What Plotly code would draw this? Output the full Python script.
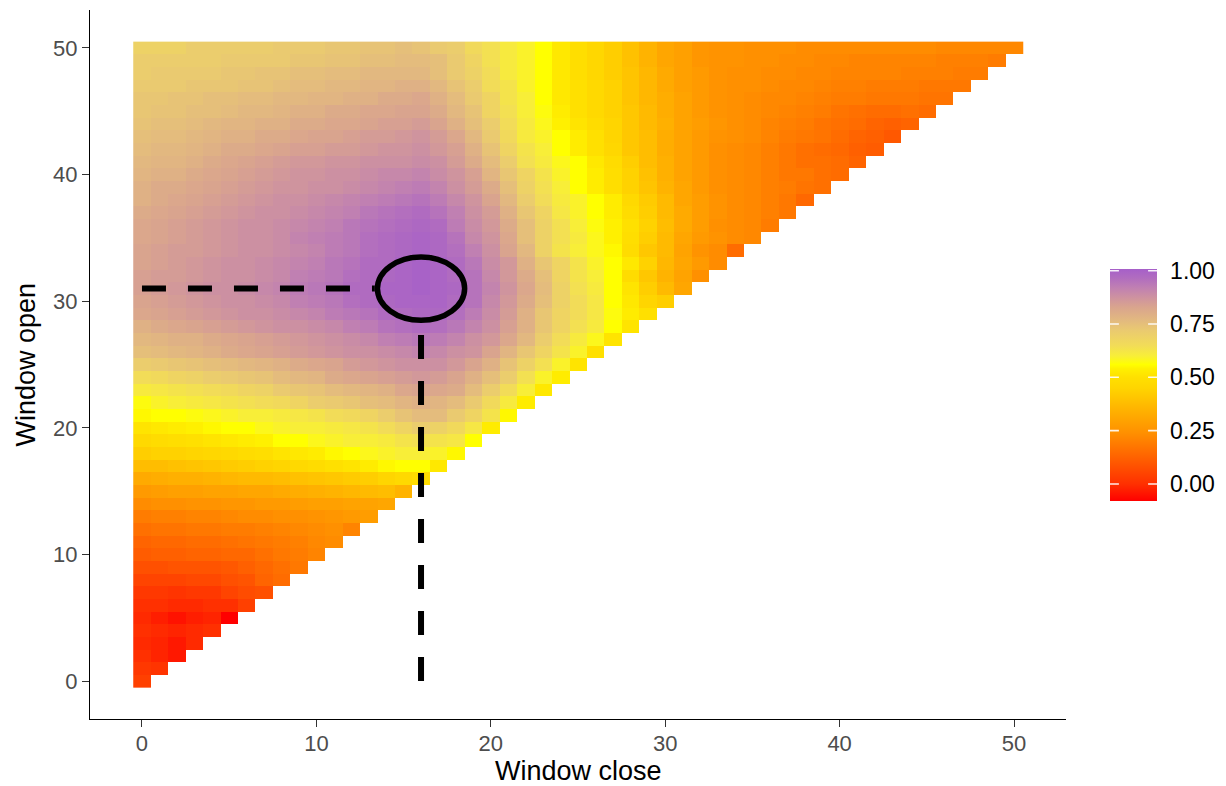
import plotly.graph_objects as go

# Window close / window open positions (days)
window_close = list(range(51))
window_open = list(range(51))

# Model fit (x100) for each window-open row; entries run over window close = 0 .. open
open_50 = [69, 69, 69, 71, 71, 71, 71, 71, 72, 72, 72, 73, 73, 74, 74, 75, 74, 72, 71, 66,
           64, 61, 59, 56, 52, 49, 46, 43, 39, 35, 31, 29, 26, 25, 25, 24, 24, 24, 23, 23,
           23, 23, 23, 23, 23, 23, 22, 22, 22, 22, 22]
open_49 = [71, 71, 71, 71, 71, 72, 72, 72, 72, 73, 73, 74, 74, 75, 75, 76, 76, 75, 72, 68,
           64, 61, 59, 56, 52, 49, 46, 43, 39, 35, 31, 29, 26, 25, 25, 24, 24, 23, 23, 22,
           22, 21, 21, 21, 21, 21, 20, 20, 20, 19]
open_48 = [71, 72, 72, 72, 72, 73, 73, 74, 74, 75, 75, 76, 76, 77, 77, 77, 77, 75, 72, 69,
           65, 61, 59, 56, 52, 49, 46, 43, 40, 36, 32, 29, 27, 25, 24, 24, 23, 23, 22, 22,
           21, 21, 21, 21, 20, 20, 20, 19, 19]
open_47 = [72, 72, 72, 73, 73, 73, 74, 74, 75, 76, 76, 77, 77, 78, 78, 79, 79, 77, 74, 71,
           65, 63, 59, 56, 52, 50, 47, 44, 40, 36, 32, 29, 27, 25, 24, 24, 23, 22, 22, 21,
           20, 20, 19, 19, 19, 18, 18, 18]
open_46 = [73, 73, 74, 74, 75, 75, 76, 76, 77, 77, 78, 78, 79, 79, 81, 81, 82, 79, 76, 72,
           68, 63, 60, 56, 52, 50, 47, 44, 40, 36, 33, 30, 27, 25, 24, 23, 22, 22, 21, 20,
           19, 19, 18, 18, 18, 17, 17]
open_45 = [73, 74, 74, 75, 75, 76, 77, 77, 78, 79, 79, 81, 81, 82, 82, 83, 83, 81, 77, 74,
           68, 64, 60, 57, 53, 50, 47, 44, 41, 37, 33, 30, 27, 25, 24, 23, 22, 21, 20, 19,
           17, 16, 15, 15, 16, 15]
open_44 = [74, 75, 75, 76, 77, 78, 78, 79, 79, 81, 81, 82, 82, 83, 84, 84, 85, 83, 79, 75,
           71, 65, 61, 58, 54, 51, 48, 45, 41, 37, 34, 30, 28, 26, 24, 23, 21, 20, 19, 17,
           16, 15, 13, 12, 13]
open_43 = [75, 76, 76, 77, 78, 79, 79, 81, 81, 82, 83, 83, 84, 85, 85, 86, 87, 85, 82, 77,
           72, 66, 61, 59, 56, 53, 50, 45, 41, 38, 33, 30, 27, 25, 24, 23, 21, 19, 18, 17,
           15, 13, 12, 10]
open_42 = [76, 77, 77, 78, 79, 81, 81, 82, 83, 84, 84, 85, 85, 86, 87, 87, 88, 86, 84, 79,
           74, 68, 63, 60, 56, 53, 50, 46, 41, 38, 33, 30, 27, 24, 23, 22, 20, 18, 16, 15,
           14, 12, 11]
open_41 = [77, 78, 78, 79, 81, 82, 83, 84, 85, 86, 86, 87, 87, 88, 88, 88, 89, 88, 85, 81,
           76, 71, 64, 61, 58, 56, 52, 48, 43, 38, 34, 30, 27, 24, 23, 22, 20, 18, 16, 16,
           15, 13]
open_40 = [78, 79, 79, 81, 82, 83, 84, 85, 86, 87, 87, 88, 88, 89, 90, 90, 91, 89, 87, 84,
           78, 73, 68, 63, 59, 56, 53, 49, 44, 39, 34, 30, 27, 24, 23, 22, 20, 18, 18, 16,
           15]
open_39 = [79, 81, 81, 82, 83, 84, 85, 86, 87, 87, 88, 88, 89, 90, 91, 92, 93, 91, 88, 85,
           81, 75, 69, 64, 60, 56, 53, 49, 44, 40, 35, 31, 27, 24, 23, 22, 20, 19, 17, 16]
open_38 = [79, 81, 82, 83, 84, 85, 86, 87, 88, 88, 89, 90, 91, 92, 93, 94, 95, 93, 90, 87,
           83, 77, 71, 65, 61, 59, 56, 53, 47, 42, 37, 31, 28, 25, 23, 22, 20, 18, 14]
open_37 = [81, 82, 83, 84, 85, 86, 87, 88, 88, 89, 90, 91, 92, 94, 95, 96, 97, 95, 92, 88,
           85, 79, 73, 68, 62, 59, 56, 53, 48, 43, 37, 32, 28, 25, 23, 22, 20, 18]
open_36 = [82, 83, 84, 85, 86, 87, 88, 88, 89, 90, 91, 92, 94, 95, 96, 97, 98, 97, 93, 89,
           86, 81, 75, 69, 64, 60, 57, 54, 50, 44, 38, 32, 28, 24, 23, 22, 19]
open_35 = [82, 83, 84, 85, 86, 87, 88, 88, 89, 91, 92, 93, 94, 96, 97, 98, 99, 98, 95, 90,
           87, 82, 75, 69, 64, 61, 58, 54, 49, 43, 37, 31, 27, 25, 23, 22]
open_34 = [83, 84, 85, 85, 86, 87, 88, 88, 89, 90, 91, 93, 94, 96, 97, 98, 99, 98, 96, 92,
           88, 83, 77, 69, 63, 60, 58, 55, 48, 41, 37, 30, 25, 23, 15]
open_33 = [83, 84, 85, 86, 87, 88, 88, 89, 90, 91, 92, 94, 95, 97, 97, 99, 100, 99, 97, 94,
           89, 86, 79, 73, 68, 63, 59, 56, 52, 44, 36, 31, 27, 23]
open_32 = [84, 85, 85, 86, 87, 88, 88, 89, 90, 92, 93, 94, 96, 97, 98, 99, 100, 99, 97, 95,
           90, 86, 81, 75, 68, 63, 60, 56, 48, 41, 35, 30, 24]
open_31 = [84, 85, 86, 87, 88, 88, 89, 90, 91, 93, 94, 95, 97, 97, 99, 99, 100, 99, 98, 95,
           91, 87, 82, 76, 69, 64, 61, 56, 51, 43, 37, 31]
open_30 = [83, 84, 85, 86, 87, 88, 88, 89, 90, 92, 93, 94, 96, 97, 98, 99, 99, 99, 97, 95,
           90, 86, 81, 75, 69, 65, 62, 56, 52, 45, 43]
open_29 = [82, 83, 84, 85, 86, 87, 88, 88, 89, 90, 91, 93, 94, 95, 97, 97, 98, 98, 96, 93,
           89, 85, 79, 73, 68, 65, 62, 57, 53, 50]
open_28 = [79, 81, 82, 83, 84, 85, 86, 87, 88, 88, 89, 90, 92, 93, 95, 96, 97, 96, 94, 91,
           88, 84, 79, 73, 68, 64, 61, 56, 51]
open_27 = [77, 78, 79, 79, 81, 82, 83, 84, 85, 86, 87, 88, 89, 90, 92, 93, 94, 93, 91, 88,
           86, 82, 77, 71, 65, 61, 58, 51]
open_26 = [75, 76, 77, 78, 79, 81, 82, 83, 84, 85, 86, 87, 88, 88, 89, 90, 91, 90, 88, 87,
           83, 78, 73, 68, 63, 59, 50]
open_25 = [71, 72, 73, 74, 75, 76, 77, 78, 79, 81, 82, 83, 85, 86, 87, 88, 88, 88, 86, 83,
           79, 74, 69, 64, 59, 51]
open_24 = [65, 66, 68, 69, 71, 72, 73, 74, 76, 77, 78, 81, 82, 83, 84, 85, 86, 85, 83, 79,
           75, 71, 64, 59, 53]
open_23 = [61, 62, 63, 64, 65, 66, 68, 69, 72, 73, 74, 76, 77, 78, 79, 82, 83, 82, 81, 76,
           71, 65, 60, 52]
open_22 = [57, 59, 60, 61, 62, 63, 64, 65, 66, 68, 71, 72, 73, 75, 76, 78, 79, 78, 76, 72,
           66, 61, 53]
open_21 = [55, 56, 56, 57, 58, 59, 60, 60, 61, 62, 63, 65, 66, 68, 71, 74, 76, 76, 72, 68,
           63, 55]
open_20 = [51, 52, 53, 54, 55, 56, 56, 58, 59, 60, 60, 61, 62, 63, 65, 68, 71, 69, 66, 62,
           53]
open_19 = [47, 48, 49, 50, 51, 52, 53, 54, 56, 56, 58, 59, 60, 60, 61, 63, 64, 63, 62, 56]
open_18 = [43, 44, 44, 45, 46, 47, 48, 49, 51, 52, 53, 55, 56, 58, 59, 60, 60, 59, 55]
open_17 = [38, 38, 39, 40, 41, 42, 43, 44, 45, 47, 48, 50, 51, 53, 55, 56, 56, 52]
open_16 = [32, 33, 34, 34, 35, 36, 37, 37, 38, 39, 40, 41, 42, 43, 45, 47, 48]
open_15 = [27, 28, 29, 29, 30, 30, 31, 31, 32, 33, 34, 35, 36, 37, 38, 35]
open_14 = [23, 24, 24, 25, 25, 26, 26, 27, 27, 28, 29, 29, 30, 30, 31]
open_13 = [19, 20, 20, 21, 21, 22, 23, 23, 24, 24, 25, 26, 27, 28]
open_12 = [16, 17, 17, 18, 18, 19, 19, 20, 21, 22, 23, 24, 21]
open_11 = [13, 14, 14, 15, 15, 16, 17, 18, 19, 20, 22, 23]
open_10 = [11, 12, 12, 13, 13, 14, 14, 16, 18, 19, 21]
open_9 = [8, 8, 9, 9, 9, 10, 12, 14, 16, 18]
open_8 = [5, 5, 5, 6, 6, 8, 9, 13, 15]
open_7 = [2, 2, 1, 2, 2, 5, 7, 8]
open_6 = [0, 0, -1, -1, 0, 0, 4]
open_5 = [-1, -3, -5, -3, -2, -8]
open_4 = [0, -1, -2, -1, 0]
open_3 = [-1, -2, -4, -1]
open_2 = [0, -2, -4]
open_1 = [2, 1]
open_0 = [4]

rows = [open_0, open_1, open_2, open_3, open_4, open_5, open_6, open_7, open_8, open_9,
        open_10, open_11, open_12, open_13, open_14, open_15, open_16, open_17, open_18,
        open_19, open_20, open_21, open_22, open_23, open_24, open_25, open_26, open_27,
        open_28, open_29, open_30, open_31, open_32, open_33, open_34, open_35, open_36,
        open_37, open_38, open_39, open_40, open_41, open_42, open_43, open_44, open_45,
        open_46, open_47, open_48, open_49, open_50]

# Best window marked on the surface
best_close = 16
best_open = 31

# Legend ticks
legend_ticks = [0.0, 0.25, 0.5, 0.75, 1.0]
legend_labels = ["0.00", "0.25", "0.50", "0.75", "1.00"]

z = [[rows[o][c] / 100 if c < len(rows[o]) else None for c in window_close]
     for o in window_open]

# Gradient: red -> orange -> yellow -> tan -> purple
zmin, zmax = -0.08, 1.008
scale_values = [-0.08, -0.04, 0.0, 0.04, 0.08, 0.12, 0.16, 0.20, 0.24, 0.29, 0.34, 0.40,
                0.45, 0.50, 0.54, 0.56, 0.60, 0.65, 0.72, 0.77, 0.83, 0.875, 0.92, 0.965, 1.008]
scale_colors = ["#FF0000", "#FF1800", "#FF3000", "#FF4000", "#FF5000", "#FF6000", "#FF7000",
                "#FF8000", "#FF9000", "#FFA000", "#FFB000", "#FFC400", "#FFD500", "#FFE000",
                "#FFF000", "#FFFF00", "#F8EE38", "#F2DC58", "#EACA70", "#E2B880", "#D9A48E",
                "#CE92A0", "#C080B2", "#B16DBF", "#A65FC9"]
colorscale = [[(v - zmin) / (zmax - zmin), c] for v, c in zip(scale_values, scale_colors)]

FONT = "Liberation Sans, Arial, Helvetica, sans-serif"
W, H = 1226, 786
ML, MR, MT, MB = 90, 160, 10, 67
PW, PH = W - ML - MR, H - MT - MB

# colour bar geometry (pixels)
bar_left, bar_w, bar_h, bar_mid = 1110, 47, 232, 385
bar_bottom = bar_mid + bar_h / 2

fig = go.Figure()
fig.add_trace(go.Heatmap(
    x=window_close, y=window_open, z=z,
    zmin=zmin, zmax=zmax, colorscale=colorscale,
    hoverongaps=False,
    colorbar=dict(
        thickness=bar_w, thicknessmode="pixels",
        len=bar_h, lenmode="pixels",
        x=(bar_left - ML) / PW, xanchor="left", xpad=0,
        y=(MT + PH - bar_mid) / PH, yanchor="middle", ypad=0,
        outlinewidth=0,
        tickvals=legend_ticks, ticktext=legend_labels,
        ticks="outside", ticklen=9, tickcolor="rgba(0,0,0,0)",
        tickfont=dict(family=FONT, size=23, color="black"),
    ),
))

# best-window guides and marker
fig.add_shape(type="line", xref="x", yref="y", x0=0, x1=best_close - 2.65,
              y0=best_open, y1=best_open, layer="above",
              line=dict(color="black", width=6, dash="24px,22px"))
fig.add_shape(type="line", xref="x", yref="y", x0=best_close, x1=best_close,
              y0=0, y1=best_open - 2.65, layer="above",
              line=dict(color="black", width=6, dash="24px,22px"))
fig.add_shape(type="circle", xref="x", yref="y",
              x0=best_close - 2.5, x1=best_close + 2.5,
              y0=best_open - 2.5, y1=best_open + 2.5, layer="above",
              line=dict(color="black", width=5.5))

annotations = []
# white tick marks on both edges of the colour bar
for v in legend_ticks:
    py = bar_bottom - (v - zmin) / (zmax - zmin) * bar_h
    yp = (MT + PH - py) / PH
    for edge, dx in ((bar_left, 9.4), (bar_left + bar_w, -9.4)):
        annotations.append(dict(
            x=(edge - ML) / PW, y=yp, xref="paper", yref="paper",
            text=" ", font=dict(size=1), borderpad=0,
            showarrow=True, arrowhead=0, arrowwidth=1.6,
            arrowcolor="rgba(255,255,255,0.9)", ax=dx, ay=0,
            standoff=0, startstandoff=0,
        ))

annotations.append(dict(text="Window close", x=0.5, y=(MT + PH - 771) / PH,
                        xref="paper", yref="paper", showarrow=False,
                        xanchor="center", yanchor="middle",
                        font=dict(family=FONT, size=27, color="black")))
annotations.append(dict(text="Window open", x=(25 - ML) / PW, y=0.5,
                        xref="paper", yref="paper", showarrow=False, textangle=-90,
                        xanchor="center", yanchor="middle",
                        font=dict(family=FONT, size=27, color="black")))

axis_common = dict(
    showgrid=False, zeroline=False,
    showline=True, linecolor="black", linewidth=1.3,
    ticks="outside", ticklen=7, tickwidth=1.3, tickcolor="#333333",
    tickfont=dict(family=FONT, size=22, color="#4D4D4D"),
    tickvals=[0, 10, 20, 30, 40, 50],
)

fig.update_layout(
    width=W, height=H,
    margin=dict(l=ML, r=MR, t=MT, b=MB),
    paper_bgcolor="white", plot_bgcolor="white",
    xaxis=dict(range=[-2.98, 52.98], ticklabelstandoff=-3, **axis_common),
    yaxis=dict(range=[-3.0, 53.0], **axis_common),
    annotations=annotations,
    showlegend=False,
)

fig.write_html("out.html")
